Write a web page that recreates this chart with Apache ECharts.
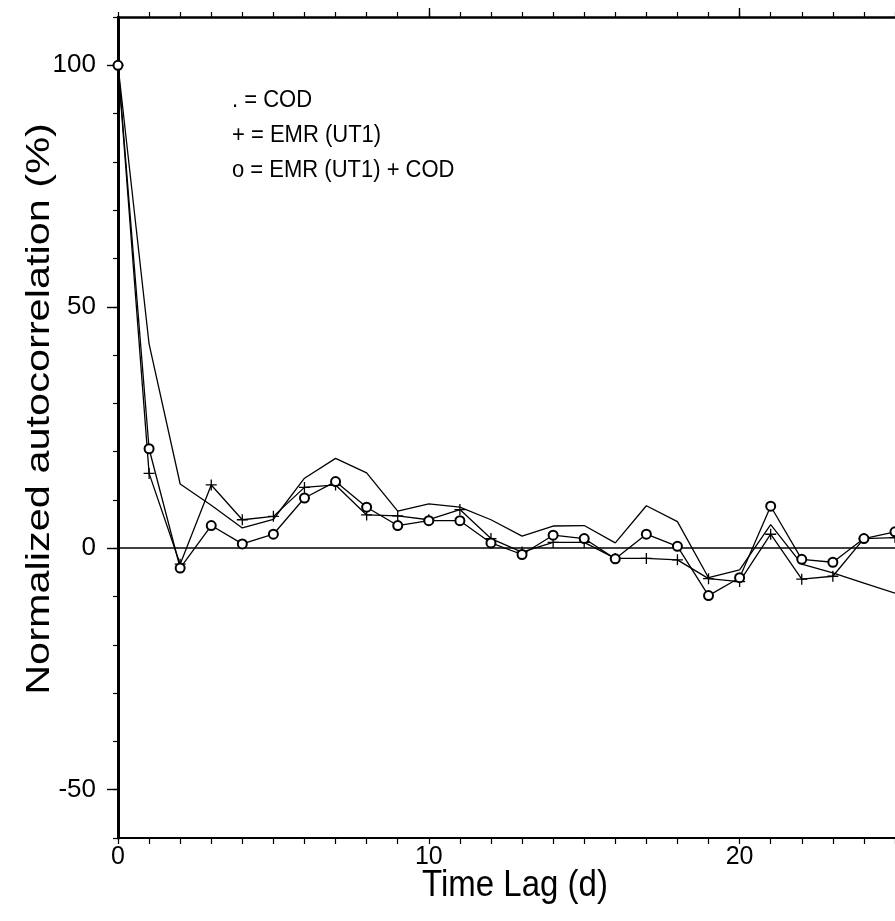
<!DOCTYPE html>
<html>
<head>
<meta charset="utf-8">
<script src="https://cdn.jsdelivr.net/npm/echarts@6/dist/echarts.min.js"></script>
<style>
  html, body { margin: 0; padding: 0; background: #fff; }
  #chart { width: 895px; height: 921px; }
</style>
</head>
<body>
<div id="chart"></div>
<script>
// Time lag (days)
const lags = [0,1,2,3,4,5,6,7,8,9,10,11,12,13,14,15,16,17,18,19,20,21,22,23,24,25];
// ". = COD" (plain line)
const cod = [100, 42.3, 13.3, 8.9, 4.2, 6.0, 14.5, 18.6, 15.6, 7.7, 9.2, 8.5, 5.9, 2.5, 4.6, 4.7, 1.1, 8.8, 5.5, -6.1, -4.5, 4.9, -3.3, -5.1, -7.2, -9.3];
// "+ = EMR (UT1)"
const emr = [100, 15.5, -3.3, 13.1, 5.9, 6.6, 12.6, 13.1, 6.9, 6.7, 5.9, 8.0, 2.0, -0.8, 1.2, 1.2, -2.1, -2.1, -2.4, -6.3, -6.9, 2.9, -6.4, -5.8, 2.0, 2.2];
// "o = EMR (UT1) + COD"
const emrCod = [100, 20.6, -4.1, 4.7, 0.9, 2.9, 10.4, 13.8, 8.5, 4.7, 5.7, 5.7, 1.1, -1.3, 2.7, 2.0, -2.2, 2.9, 0.4, -9.8, -6.1, 8.7, -2.3, -2.9, 2.0, 3.4];

const xLabelTicks = [0, 10, 20];
const xLongTicks = [10, 20];
const yLabelTicks = [-50, 0, 50, 100];
const legendLines = ['. = COD', '+ = EMR (UT1)', 'o = EMR (UT1) + COD'];
const xTitle = 'Time Lag (d)';
const yTitle = 'Normalized autocorrelation (%)';

const FONT = '"Liberation Sans", Arial, Helvetica, sans-serif';
const pair = arr => lags.map((x, i) => [x, arr[i]]);

const chart = echarts.init(document.getElementById('chart'), null, { renderer: 'canvas' });

const baseX = { type: 'value', min: 0, max: 25, splitLine: { show: false } };
const baseY = { type: 'value', min: -60, max: 110, splitLine: { show: false } };

const option = {
  backgroundColor: '#ffffff',
  animation: false,
  grid: { left: 118, right: -2, top: 17, bottom: 83, containLabel: false },
  xAxis: [
    Object.assign({}, baseX, {
      position: 'bottom', interval: 1,
      axisLine: { show: true, onZero: false, lineStyle: { color: '#000', width: 2 } },
      axisTick: { show: true, length: 6, lineStyle: { color: '#000', width: 1.2 } },
      axisLabel: { show: true, customValues: xLabelTicks, color: '#000', fontFamily: FONT, fontSize: 25, margin: 7 }
    }),
    Object.assign({}, baseX, {
      position: 'top', interval: 1,
      axisLine: { show: true, onZero: false, lineStyle: { color: '#000', width: 2.5 } },
      axisTick: { show: true, length: 5, lineStyle: { color: '#000', width: 1.2 } },
      axisLabel: { show: false }
    }),
    Object.assign({}, baseX, {
      position: 'top',
      axisLine: { show: false, onZero: false },
      axisTick: { show: true, customValues: xLongTicks, length: 9, lineStyle: { color: '#000', width: 1.4 } },
      axisLabel: { show: false }
    })
  ],
  yAxis: [
    Object.assign({}, baseY, {
      position: 'left', interval: 10,
      axisLine: { show: true, onZero: false, lineStyle: { color: '#000', width: 3 } },
      axisTick: { show: true, length: 5, lineStyle: { color: '#000', width: 1.2 } },
      axisLabel: { show: false }
    }),
    Object.assign({}, baseY, {
      position: 'left',
      axisLine: { show: false, onZero: false },
      axisTick: { show: true, customValues: yLabelTicks, length: 11, lineStyle: { color: '#000', width: 1.4 } },
      axisLabel: { show: true, customValues: yLabelTicks, color: '#000', fontFamily: FONT, fontSize: 26, margin: 22 }
    })
  ],
  series: [
    {
      name: 'COD', type: 'line', xAxisIndex: 0, yAxisIndex: 0,
      data: pair(cod), showSymbol: false, symbol: 'none',
      lineStyle: { color: '#000', width: 1.3 },
      markLine: {
        silent: true, symbol: ['none', 'none'], label: { show: false },
        lineStyle: { color: '#000', width: 1.6, type: 'solid' },
        data: [{ yAxis: 0 }]
      },
      z: 3
    },
    {
      name: 'EMR (UT1)', type: 'line', xAxisIndex: 0, yAxisIndex: 0,
      data: pair(emr),
      symbol: 'path://M0,-1L0,1M-1,0L1,0', symbolSize: 11,
      itemStyle: { color: 'rgba(0,0,0,0)', borderColor: '#000', borderWidth: 1.3 },
      lineStyle: { color: '#000', width: 1.3 },
      z: 4
    },
    {
      name: 'EMR (UT1) + COD', type: 'line', xAxisIndex: 0, yAxisIndex: 0,
      data: pair(emrCod),
      symbol: 'emptyCircle', symbolSize: 9,
      itemStyle: { color: '#000', borderColor: '#000', borderWidth: 1.2 },
      lineStyle: { color: '#000', width: 1.3 },
      z: 5
    }
  ],
  graphic: [
    { type: 'text', x: 232, y: 100, scaleY: 1.1, style: { text: legendLines[0], fill: '#000', font: '22px ' + FONT, verticalAlign: 'middle' } },
    { type: 'text', x: 232, y: 135, scaleY: 1.1, style: { text: legendLines[1], fill: '#000', font: '22px ' + FONT, verticalAlign: 'middle' } },
    { type: 'text', x: 232, y: 170, scaleY: 1.1, style: { text: legendLines[2], fill: '#000', font: '22px ' + FONT, verticalAlign: 'middle' } },
    { type: 'text', x: 515, y: 886, scaleY: 1.12, style: { text: xTitle, fill: '#000', font: '33px ' + FONT, align: 'center', verticalAlign: 'middle' } },
    { type: 'text', x: 40, y: 409, rotation: Math.PI / 2, scaleX: 1.22, style: { text: yTitle, fill: '#000', font: '34px ' + FONT, align: 'center', verticalAlign: 'middle' } }
  ]
};
chart.setOption(option);
</script>
</body>
</html>
